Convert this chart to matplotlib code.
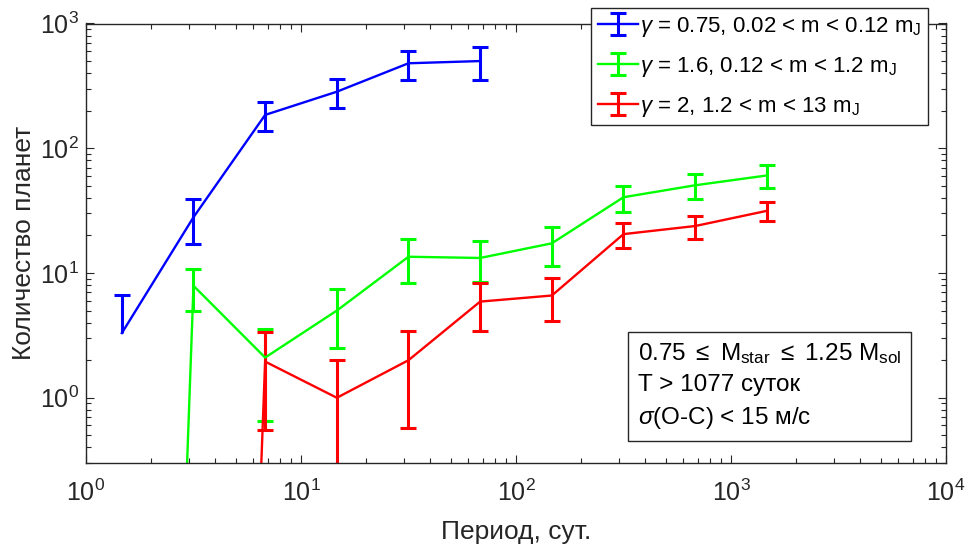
import numpy as np
import matplotlib
matplotlib.use("Agg")
import matplotlib.pyplot as plt

plt.rcParams['font.family'] = ['Liberation Sans', 'DejaVu Sans']
plt.rcParams['mathtext.fontset'] = 'custom'
plt.rcParams['mathtext.rm'] = 'Liberation Sans'
plt.rcParams['mathtext.it'] = 'Liberation Sans:italic'
plt.rcParams['mathtext.bf'] = 'Liberation Sans:bold'

# ---- data ----
period = [1.468, 3.162, 6.81, 14.68, 31.62, 68.1, 146.8, 316.2, 681.0, 1468.0]

blue_y = [3.3, 28, 185, 284, 480, 500]
blue_err = [3.4, 11, 48, 74, 125, 145]

green_y = [1e-15, 7.9, 2.1, 5.0, 13.5, 13.2, 17.3, 40.5, 50.5, 60.5]
green_err = [0, 2.9, 1.45, 2.5, 5.2, 4.8, 6.0, 9.7, 11.3, 12.5]

red_y = [1e-15, 1e-15, 1.95, 1.0, 2.0, 5.9, 6.6, 20.5, 23.8, 31.5]
red_err = [0, 0, 1.4, 1.0, 1.43, 2.45, 2.5, 4.5, 4.9, 5.6]

labels = [r"$\gamma$ = 0.75, 0.02 < m < 0.12 m$_\mathregular{J}$",
          r"$\gamma$ = 1.6, 0.12 < m < 1.2 m$_\mathregular{J}$",
          r"$\gamma$ = 2, 1.2 < m < 13 m$_\mathregular{J}$"]
colors = ['#0000ff', '#00ff00', '#ff0000']

info_lines = [r"0.75 $\leq$ M$_\mathregular{star}$ $\leq$ 1.25 M$_\mathregular{sol}$",
              "T > 1077 суток",
              r"$\sigma$(O-C) < 15 м/с"]

xlabel = "Период, сут."
ylabel = "Количество планет"

# ---- figure ----
fig = plt.figure(figsize=(9.66, 5.47), dpi=100)
ax = fig.add_axes([86/966, 1 - 463/547, (946-86)/966, (463-23.5)/547])
ax.set_xscale('log')
ax.set_yscale('log')

series = [(period[:len(blue_y)], blue_y, blue_err),
          (period, green_y, green_err),
          (period, red_y, red_err)]

handles = []
for (xs, ys, es), c, lab in zip(series, colors, labels):
    xs = np.asarray(xs, float)
    ys = np.asarray(ys, float)
    es = np.asarray(es, float)
    lower = ys - es
    lo_err = np.where(lower < 0, 0.0, es)
    cont = ax.errorbar(xs, ys, yerr=[lo_err, es], color=c, lw=1.7,
                       elinewidth=2.2, capsize=6, capthick=2.2, label=lab)
    # hide lower caps where the lower bound is negative (not drawn on log axis)
    caps = cont[1]
    if len(caps) >= 1:
        keep = lower >= 0
        caps[0].set_data(xs[keep], lower[keep])
    handles.append(cont)

ax.set_xlim(1, 1e4)
ax.set_ylim(0.3, 1e3)

gray = '#262626'
for s in ax.spines.values():
    s.set_color(gray)
    s.set_linewidth(1.0)
ax.tick_params(which='both', direction='in', top=True, right=True,
               colors=gray, labelcolor=gray, labelsize=18)
ax.tick_params(which='major', length=6, width=0.8)
ax.tick_params(which='minor', length=3.5, width=0.8)
ax.tick_params(axis='x', which='major', pad=12)
ax.tick_params(axis='y', which='major', pad=5)
ax.set_yticks([1, 10, 100, 1000])
ax.set_xticks([1, 10, 100, 1000, 10000])

ax.set_xlabel(xlabel, fontsize=19, color=gray, labelpad=10)
ax.set_ylabel(ylabel, fontsize=19, color=gray, labelpad=3)

leg = ax.legend(handles=handles, labels=labels, loc='upper right',
                bbox_to_anchor=(928/966, 1 - 8/547),
                bbox_transform=fig.transFigure, borderaxespad=0,
                fontsize=16, fancybox=False, framealpha=1,
                edgecolor=gray, handlelength=1.8, handletextpad=0.1,
                labelspacing=0.72, borderpad=0.3)
leg.get_frame().set_linewidth(1.0)

ax.text(638/966, 1 - 386/547, "\n".join(info_lines), transform=fig.transFigure,
        fontsize=17.5, color='black', va='center', ha='left', linespacing=1.45,
        bbox=dict(boxstyle='square,pad=0.42', facecolor='white',
                  edgecolor=gray, linewidth=1.0))

fig.savefig("out.png", dpi=100)
